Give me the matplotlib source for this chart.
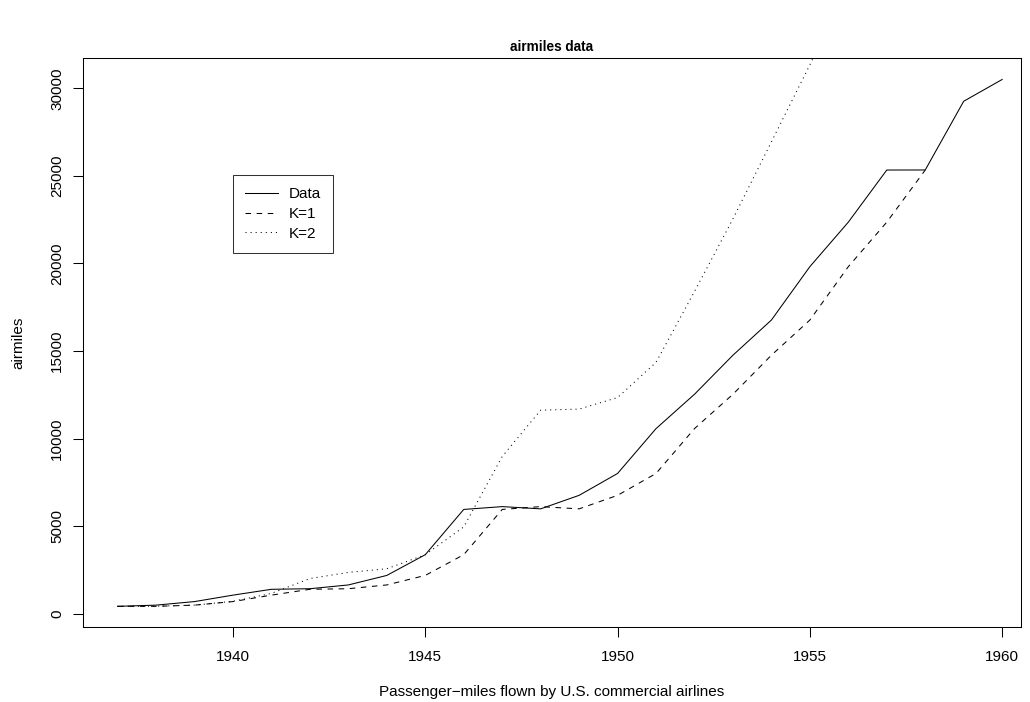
import matplotlib
matplotlib.use("Agg")
import matplotlib.pyplot as plt
from matplotlib.ticker import FixedLocator

plt.rcParams['font.family'] = ['Liberation Sans', 'DejaVu Sans']
plt.rcParams['lines.scale_dashes'] = False

# Passenger-miles flown by U.S. commercial airlines, 1937-1960
years = list(range(1937, 1961))
airmiles = [412, 480, 683, 1052, 1385, 1418, 1634, 2178, 3362, 5948, 6109, 5981,
            6753, 8003, 10566, 12528, 14760, 16769, 19819, 22362, 25340, 25343,
            29269, 30514]

# One-step predictions, K=1
k1_years = list(range(1937, 1959))
k1_values = [412, 412, 480, 683, 1052, 1385, 1418, 1634, 2178, 3362, 5948, 6109,
             5981, 6753, 8003, 10566, 12528, 14760, 16769, 19819, 22362, 25340]

# Predictions with K=2
k2_years = list(range(1937, 1957))
k2_values = [412, 420, 480, 700, 1150, 2000, 2350, 2560, 3360, 4950, 8970, 11620,
             11680, 12340, 14350, 18400, 22550, 26950, 31350, 36000]

x_ticks = [1940, 1945, 1950, 1955, 1960]
y_ticks = [0, 5000, 10000, 15000, 20000, 25000, 30000]

W, H = 1030, 702
fig = plt.figure(figsize=(W / 100, H / 100), dpi=100)
left, right, top, bottom = 83, 1021, 58.4, 627.4
ax = fig.add_axes([left / W, 1 - bottom / H, (right - left) / W, (bottom - top) / H])

lw = 0.75
fs = 11.0
ax.plot(years, airmiles, color='black', lw=lw, linestyle='-', label='Data')
ax.plot(k1_years, k1_values, color='black', lw=lw, linestyle=(0, (4.0, 4.0)), label='K=1')
ax.plot(k2_years, k2_values, color='black', lw=lw, linestyle=(0, (0.75, 2.9)), label='K=2')

ax.set_xlim(1936.10, 1960.49)
ax.set_ylim(-792, 31718)

ax.xaxis.set_major_locator(FixedLocator(x_ticks))
ax.yaxis.set_major_locator(FixedLocator(y_ticks))
ax.set_xticklabels([str(v) for v in x_ticks])
ax.set_yticklabels([str(v) for v in y_ticks], rotation=90, va='center')
ax.tick_params(axis='both', direction='out', length=6.9, width=0.75, labelsize=fs,
               color='black')
ax.tick_params(axis='x', pad=9.5)
ax.tick_params(axis='y', pad=6.7)
for s in ax.spines.values():
    s.set_linewidth(0.75)

fig.text((left + right) / 2 / W, 1 - 47 / H, 'airmiles data', ha='center', va='center',
         fontsize=9.8, fontweight='bold')
fig.text((left + right) / 2 / W, 1 - 692 / H,
         'Passenger\u2212miles flown by U.S. commercial airlines',
         ha='center', va='center', fontsize=fs)
fig.text(18 / W, 1 - 343 / H, 'airmiles', ha='center', va='center', rotation=90,
         fontsize=fs)

leg = ax.legend(loc='upper left', bbox_to_anchor=((233 - left) / (right - left),
                                                   (bottom - 175) / (bottom - top)),
                frameon=True, fancybox=False, fontsize=fs, handlelength=2.15,
                handletextpad=0.7, borderpad=0.8, labelspacing=0.38,
                borderaxespad=0)
leg.get_frame().set_edgecolor('black')
leg.get_frame().set_linewidth(0.75)

fig.savefig('out.png', dpi=100)
